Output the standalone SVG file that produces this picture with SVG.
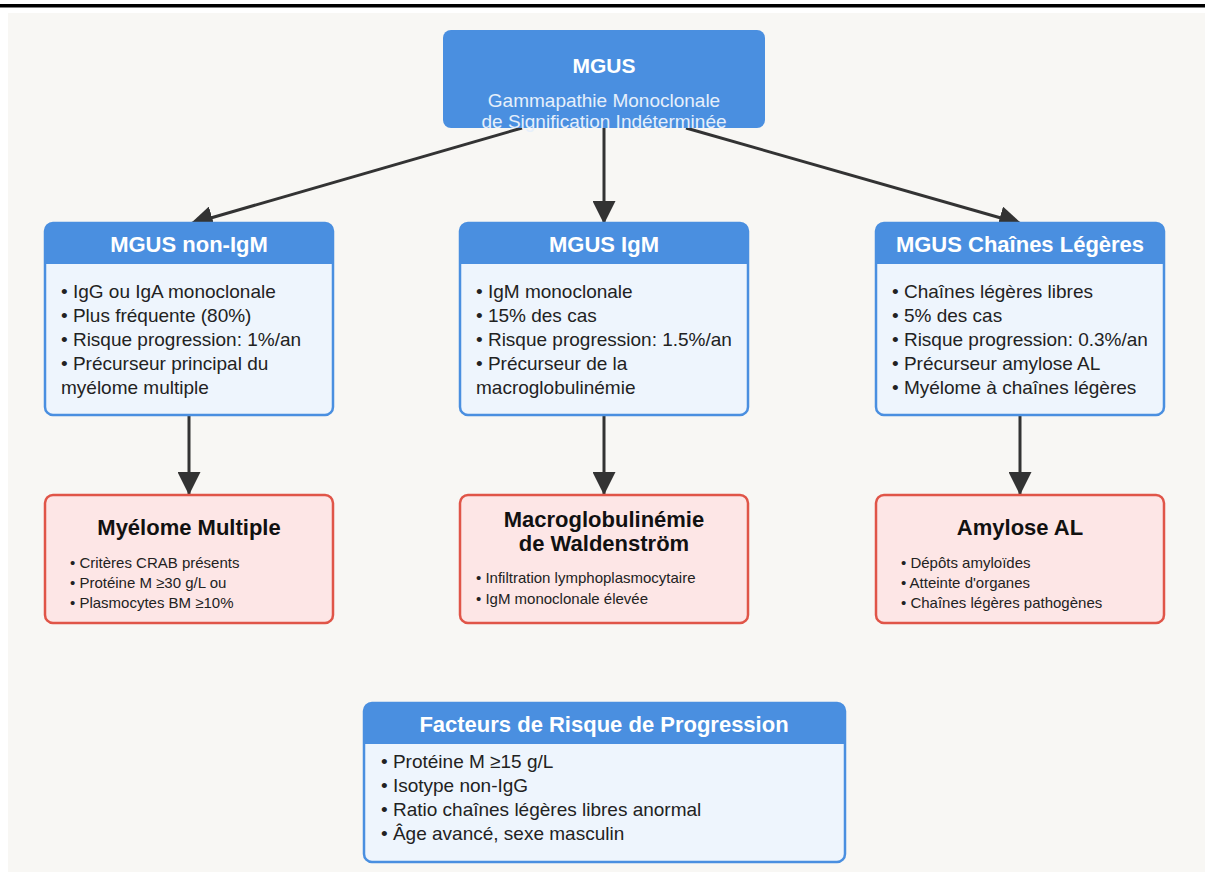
<svg xmlns="http://www.w3.org/2000/svg" width="1205" height="872" viewBox="0 0 1205 872">
<defs>
<marker id="arr" viewBox="0 0 20 20" refX="20" refY="10" markerWidth="23" markerHeight="23" markerUnits="userSpaceOnUse" orient="auto">
<path d="M0,0 L20,10 L0,20 z" fill="#333"/>
</marker>
<style>
text{font-family:"Liberation Sans",Arial,sans-serif;}
.hdr{fill:#4a8fe0;}
.body{fill:#eef5fd;stroke:#4a8fe0;stroke-width:2.5;}
.red{fill:#fde6e6;stroke:#e05548;stroke-width:2.5;}
.ht{fill:#fff;font-weight:bold;font-size:22px;text-anchor:middle;}
.bt{fill:#222;font-size:19px;}
.rt{fill:#111;font-weight:bold;font-size:22px;text-anchor:middle;}
.rb{fill:#222;font-size:15px;}
.conn line{stroke:#333;stroke-width:3;marker-end:url(#arr);}
</style>
</defs>
<rect x="0" y="0" width="1205" height="872" fill="#ffffff"/>
<rect x="8" y="13" width="1197" height="859" fill="#f8f7f4"/>
<rect x="0" y="4" width="1205" height="3.5" fill="#000"/>

<g class="conn">
<line x1="522" y1="128" x2="190" y2="224"/>
<line x1="604" y1="128" x2="604" y2="224"/>
<line x1="686" y1="128" x2="1022" y2="224"/>
<line x1="189" y1="415" x2="189" y2="495"/>
<line x1="604" y1="415" x2="604" y2="495"/>
<line x1="1020" y1="415" x2="1020" y2="495"/>
</g>

<g id="mgus">
<rect x="443" y="30" width="322" height="98" rx="8" fill="#4a8fe0"/>
<text x="604" y="73" class="ht" style="font-size:21px">MGUS</text>
<text x="604" y="107" text-anchor="middle" font-size="19" fill="#e6effb">Gammapathie Monoclonale</text>
<text x="604" y="128" text-anchor="middle" font-size="19" fill="#e6effb">de Signification Indéterminée</text>
</g>

<g id="non-igm">
<rect x="45" y="223" width="288" height="192" rx="8" class="body"/>
<path d="M45,264 V231 Q45,223 53,223 H325 Q333,223 333,231 V264 Z" class="hdr"/>
<text x="189" y="252" class="ht">MGUS non-IgM</text>
<text x="61" y="298" class="bt">• IgG ou IgA monoclonale</text>
<text x="61" y="322" class="bt">• Plus fréquente (80%)</text>
<text x="61" y="346" class="bt">• Risque progression: 1%/an</text>
<text x="61" y="370" class="bt">• Précurseur principal du</text>
<text x="61" y="394" class="bt">myélome multiple</text>
</g>

<g id="igm">
<rect x="460" y="223" width="288" height="192" rx="8" class="body"/>
<path d="M460,264 V231 Q460,223 468,223 H740 Q748,223 748,231 V264 Z" class="hdr"/>
<text x="604" y="252" class="ht">MGUS IgM</text>
<text x="476" y="298" class="bt">• IgM monoclonale</text>
<text x="476" y="322" class="bt">• 15% des cas</text>
<text x="476" y="346" class="bt">• Risque progression: 1.5%/an</text>
<text x="476" y="370" class="bt">• Précurseur de la</text>
<text x="476" y="394" class="bt">macroglobulinémie</text>
</g>

<g id="chaines">
<rect x="876" y="223" width="288" height="192" rx="8" class="body"/>
<path d="M876,264 V231 Q876,223 884,223 H1156 Q1164,223 1164,231 V264 Z" class="hdr"/>
<text x="1020" y="252" class="ht">MGUS Chaînes Légères</text>
<text x="892" y="298" class="bt">• Chaînes légères libres</text>
<text x="892" y="322" class="bt">• 5% des cas</text>
<text x="892" y="346" class="bt">• Risque progression: 0.3%/an</text>
<text x="892" y="370" class="bt">• Précurseur amylose AL</text>
<text x="892" y="394" class="bt">• Myélome à chaînes légères</text>
</g>

<g id="myelome">
<rect x="45" y="495" width="288" height="128" rx="8" class="red"/>
<text x="189" y="535" class="rt">Myélome Multiple</text>
<text x="70" y="568" class="rb">• Critères CRAB présents</text>
<text x="70" y="588" class="rb">• Protéine M ≥30 g/L ou</text>
<text x="70" y="608" class="rb">• Plasmocytes BM ≥10%</text>
</g>

<g id="waldenstrom">
<rect x="460" y="495" width="288" height="128" rx="8" class="red"/>
<text x="604" y="527" class="rt">Macroglobulinémie</text>
<text x="604" y="551" class="rt">de Waldenström</text>
<text x="476" y="583" class="rb">• Infiltration lymphoplasmocytaire</text>
<text x="476" y="604" class="rb">• IgM monoclonale élevée</text>
</g>

<g id="amylose">
<rect x="876" y="495" width="288" height="128" rx="8" class="red"/>
<text x="1020" y="535" class="rt">Amylose AL</text>
<text x="901" y="568" class="rb">• Dépôts amyloïdes</text>
<text x="901" y="588" class="rb">• Atteinte d'organes</text>
<text x="901" y="608" class="rb">• Chaînes légères pathogènes</text>
</g>

<g id="facteurs">
<rect x="364" y="703" width="481" height="159" rx="8" class="body"/>
<path d="M364,744 V711 Q364,703 372,703 H837 Q845,703 845,711 V744 Z" class="hdr"/>
<text x="604" y="732" class="ht">Facteurs de Risque de Progression</text>
<text x="381" y="768" class="bt">• Protéine M ≥15 g/L</text>
<text x="381" y="792" class="bt">• Isotype non-IgG</text>
<text x="381" y="816" class="bt">• Ratio chaînes légères libres anormal</text>
<text x="381" y="840" class="bt">• Âge avancé, sexe masculin</text>
</g>
</svg>
